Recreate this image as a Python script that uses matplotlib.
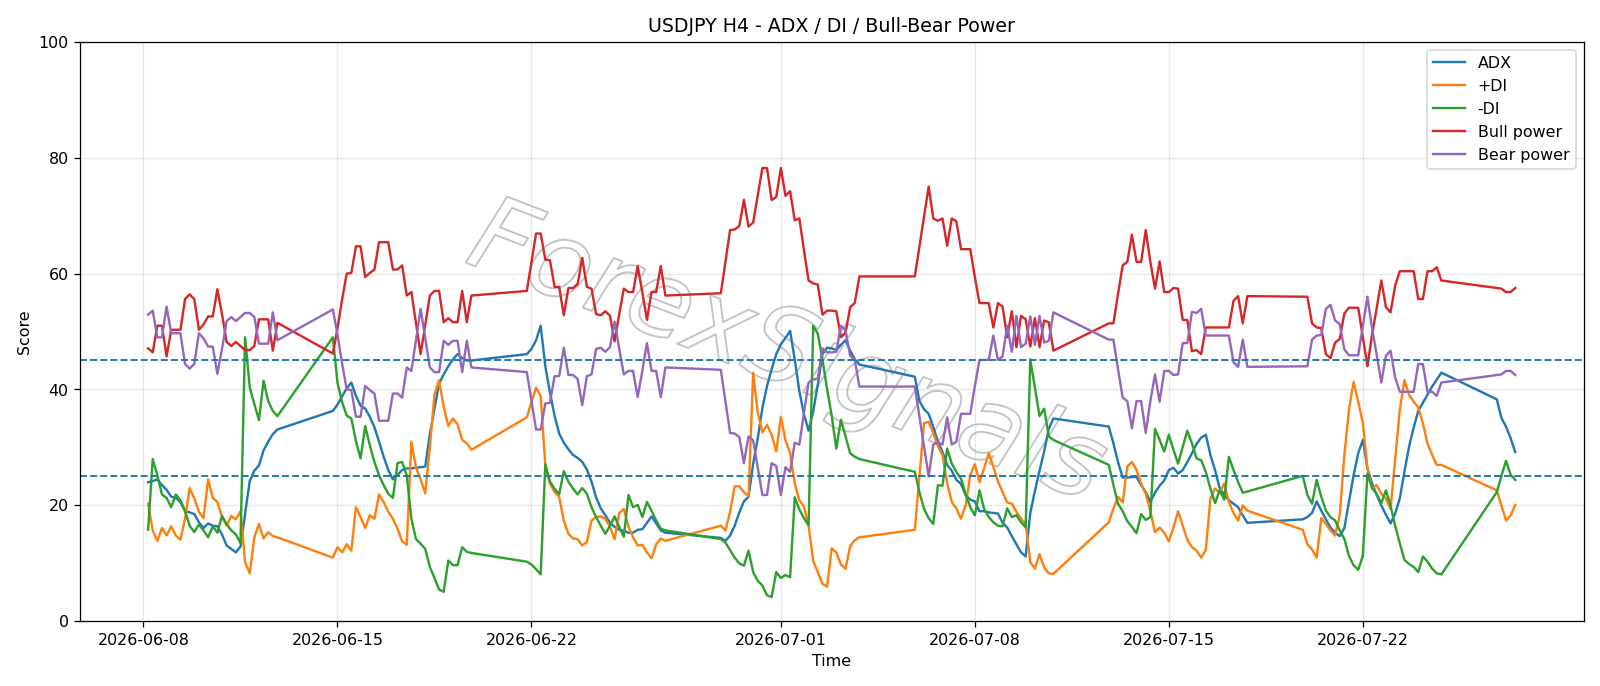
import pandas as pd
import matplotlib
matplotlib.use("Agg")
import matplotlib.pyplot as plt
import matplotlib.patheffects as pe

# H4 bars, one block per trading week (first bar, number of bars)
week_starts = ["2026-06-08 04:00", "2026-06-14 20:00", "2026-06-21 20:00", "2026-06-28 20:00",
               "2026-07-05 20:00", "2026-07-12 20:00", "2026-07-19 20:00", "2026-07-26 20:00"]
week_bars = [29, 31, 31, 31, 31, 31, 31, 5]

adx = [
    24.0, 24.2, 24.5, 23.5, 22.7, 21.5, 21.3, 20.6, 19.0, 18.8, 18.5, 17.1, 16.1, 16.9, 16.5,
    16.4, 15.0, 13.1, 12.5, 11.9, 12.9, 18.5, 24.2, 26.0, 26.9, 29.5, 31.0, 32.3, 33.1,
    36.3, 37.4, 38.8, 40.2, 41.2, 38.9, 37.2, 36.7, 35.3, 33.5, 31.0, 28.4, 26.1, 24.5, 25.3,
    26.1, 26.4, 26.4, 26.5, 26.6, 26.7, 32.3, 36.7, 41.0, 42.6, 44.0, 45.2, 46.1, 45.4, 45.0, 45.0,
    46.1, 47.0, 48.5, 51.0, 44.0, 39.5, 35.5, 32.4, 30.8, 29.7, 28.7, 28.2, 27.5, 26.2, 24.1,
    21.4, 19.5, 18.3, 17.0, 16.3, 15.8, 15.6, 15.3, 15.3, 15.8, 15.9, 17.0, 18.1, 16.9, 15.7, 15.3,
    14.4, 13.9, 14.8, 16.5, 18.8, 20.7, 21.5, 27.2, 31.6, 36.8, 40.6, 43.5, 46.1, 47.8, 48.9,
    50.1, 45.2, 39.7, 35.7, 32.9, 36.2, 40.9, 46.1, 47.2, 47.1, 46.8, 47.7, 48.5, 46.7, 45.2, 44.3,
    42.2, 38.0, 36.6, 35.8, 33.5, 31.0, 29.2, 27.0, 26.0, 24.4, 23.7, 21.8, 21.0, 20.7, 19.0,
    19.0, 18.8, 18.7, 18.6, 17.0, 16.2, 14.7, 13.3, 11.9, 11.2, 18.7, 22.5, 26.0, 29.3, 33.2, 35.0,
    33.6, 30.7, 27.5, 24.8, 24.8, 24.9, 24.9, 23.5, 22.3, 20.6, 22.2, 23.4, 24.3, 26.1, 26.5,
    25.5, 26.1, 27.5, 29.0, 30.6, 31.7, 32.2, 28.7, 26.1, 23.0, 21.8, 20.9, 20.3, 19.7, 18.3, 17.0,
    17.6, 18.0, 18.7, 20.7, 19.1, 17.6, 16.2, 15.3, 14.7, 16.1, 20.6, 25.2, 29.0, 31.3, 26.4,
    23.8, 21.8, 20.0, 18.4, 16.9, 18.6, 21.2, 25.8, 30.1, 33.4, 36.3, 37.7, 39.1, 40.5, 41.7, 42.9,
    38.3, 35.1, 33.6, 31.6, 29.2,
]

plus_di = [
    20.3, 15.7, 13.9, 16.1, 14.8, 16.4, 14.8, 14.1, 17.7, 23.0, 21.2, 18.9, 17.8, 24.5, 21.3,
    20.6, 18.0, 16.5, 18.2, 17.6, 19.0, 10.2, 8.3, 14.5, 16.8, 14.3, 15.4, 14.7, 14.5,
    11.0, 12.8, 11.9, 13.3, 12.2, 19.7, 18.0, 16.1, 18.3, 17.7, 21.9, 20.6, 18.9, 17.7, 16.0,
    13.8, 13.2, 31.0, 26.5, 24.5, 22.1, 30.0, 39.1, 41.6, 37.0, 33.7, 35.0, 34.0, 31.3, 30.7, 29.6,
    35.2, 37.8, 40.3, 38.9, 27.0, 23.8, 22.3, 21.5, 17.4, 15.1, 14.3, 14.2, 13.1, 13.7, 17.4,
    18.0, 18.1, 17.7, 16.3, 14.2, 18.7, 19.4, 16.3, 14.5, 13.1, 13.2, 11.9, 10.9, 13.3, 14.3, 13.9,
    16.5, 15.7, 18.9, 23.3, 23.3, 22.3, 21.6, 42.9, 36.0, 32.6, 33.9, 32.2, 29.3, 35.3, 31.2,
    29.1, 23.8, 20.9, 19.8, 16.5, 10.4, 8.5, 6.5, 6.0, 12.6, 11.9, 9.8, 9.1, 13.0, 14.0, 14.5,
    15.8, 25.0, 34.2, 34.4, 32.5, 30.2, 28.7, 23.8, 20.6, 19.5, 17.7, 20.0, 25.2, 27.1, 24.0,
    26.4, 29.0, 26.7, 24.1, 22.3, 20.5, 20.3, 18.9, 17.7, 16.8, 10.2, 9.1, 11.6, 9.3, 8.3, 8.2,
    17.1, 19.5, 21.5, 20.5, 26.7, 27.5, 26.1, 23.8, 22.0, 19.0, 15.4, 16.2, 15.3, 13.8, 16.2,
    19.0, 16.5, 14.1, 12.8, 12.2, 11.0, 12.3, 21.2, 22.9, 22.2, 23.8, 20.6, 18.7, 17.4, 20.0, 19.1,
    15.8, 13.3, 12.4, 11.0, 17.8, 16.8, 15.7, 14.8, 18.3, 28.7, 36.5, 41.3, 37.9, 34.2, 26.4,
    23.0, 23.5, 22.0, 21.2, 19.4, 28.0, 36.5, 41.6, 39.1, 37.9, 36.9, 34.2, 30.7, 28.7, 27.0, 27.0,
    22.6, 20.0, 17.4, 18.3, 20.1,
]

minus_di = [
    15.8, 28.0, 25.2, 21.9, 21.3, 19.7, 21.9, 20.9, 19.0, 16.5, 15.4, 16.7, 15.7, 14.5, 16.4,
    15.3, 18.2, 16.8, 15.7, 15.0, 13.5, 49.0, 40.4, 37.5, 34.7, 41.5, 38.0, 36.3, 35.4,
    49.0, 41.2, 37.8, 35.5, 35.0, 31.1, 28.1, 33.7, 30.4, 27.5, 25.2, 23.5, 22.0, 21.3, 27.3,
    27.5, 25.2, 17.7, 14.2, 13.4, 12.5, 9.4, 7.5, 5.5, 5.1, 10.5, 9.7, 9.7, 12.8, 12.0, 11.8,
    10.3, 9.8, 9.0, 8.1, 27.1, 24.1, 22.9, 21.9, 25.9, 24.1, 22.9, 21.9, 23.0, 22.0, 19.7,
    18.0, 16.5, 15.1, 16.5, 18.1, 16.3, 14.6, 21.8, 19.7, 20.1, 18.0, 20.6, 19.1, 17.4, 16.0, 15.7,
    14.2, 13.6, 12.3, 11.0, 10.0, 9.6, 12.2, 8.5, 7.0, 6.2, 4.5, 4.2, 8.5, 7.5, 8.0,
    7.6, 21.4, 19.3, 17.8, 16.6, 51.0, 49.6, 45.2, 40.1, 35.5, 29.8, 34.8, 31.9, 29.0, 28.4, 28.0,
    25.8, 22.3, 19.4, 17.8, 16.8, 23.5, 23.4, 29.8, 27.2, 25.8, 24.6, 22.0, 19.7, 18.3, 22.6,
    19.4, 18.0, 17.1, 16.5, 16.4, 19.5, 18.0, 18.3, 17.1, 16.2, 45.2, 40.3, 35.4, 36.7, 31.9, 31.3,
    27.0, 23.5, 20.3, 19.0, 17.3, 16.3, 15.2, 18.5, 17.5, 18.0, 33.2, 31.3, 29.3, 32.2, 29.6,
    27.2, 30.1, 32.9, 30.7, 28.1, 27.8, 25.8, 22.9, 20.4, 22.6, 21.0, 28.4, 26.1, 24.0, 22.2, 22.4,
    25.1, 21.8, 20.3, 24.4, 21.5, 19.1, 18.0, 17.4, 15.7, 14.2, 11.3, 9.7, 8.9, 11.3, 25.5,
    23.0, 22.0, 20.4, 22.6, 20.0, 16.5, 13.5, 10.6, 9.9, 9.4, 8.5, 11.2, 10.3, 9.1, 8.3, 8.1,
    22.3, 25.1, 27.7, 25.3, 24.4,
]

bull_power = [
    47.1, 46.4, 51.0, 51.0, 45.7, 50.3, 50.3, 50.3, 55.6, 56.4, 55.6, 50.3, 51.2, 52.6, 52.6,
    57.3, 53.0, 48.2, 47.5, 48.2, 47.5, 46.8, 46.8, 47.5, 52.1, 52.1, 52.1, 46.7, 51.5,
    46.2, 50.5, 55.5, 60.0, 60.1, 64.7, 64.7, 59.4, 60.1, 60.7, 65.4, 65.4, 65.4, 60.7, 60.7,
    61.4, 56.2, 56.8, 51.4, 46.1, 51.2, 56.2, 57.0, 57.0, 51.6, 52.3, 51.6, 51.6, 57.0, 51.6, 56.2,
    57.0, 62.0, 66.9, 66.9, 62.4, 62.3, 57.7, 57.7, 52.8, 57.5, 57.5, 58.2, 62.7, 57.7, 57.4,
    53.0, 52.8, 53.5, 52.7, 48.3, 53.0, 57.4, 56.8, 56.8, 61.3, 56.8, 52.0, 56.8, 56.8, 61.3, 56.2,
    56.6, 62.0, 67.5, 67.6, 68.2, 72.7, 68.1, 68.8, 73.5, 78.2, 78.2, 72.7, 73.2, 78.2, 73.4,
    74.2, 69.2, 69.5, 64.0, 58.8, 58.3, 58.1, 52.9, 53.6, 53.6, 53.5, 49.0, 49.8, 54.2, 54.9, 59.5,
    59.5, 64.7, 69.8, 75.0, 69.5, 69.1, 69.5, 64.8, 69.5, 69.0, 64.2, 64.2, 64.2, 59.4, 54.9,
    54.9, 54.9, 50.7, 54.9, 54.3, 49.0, 53.5, 47.3, 52.7, 52.1, 47.4, 52.3, 47.3, 51.9, 51.6, 46.7,
    51.4, 51.4, 56.5, 61.4, 62.0, 66.7, 62.0, 62.0, 67.5, 62.0, 57.4, 62.1, 56.8, 56.8, 57.5,
    57.4, 52.0, 52.0, 46.6, 46.8, 46.1, 50.7, 50.7, 50.7, 50.7, 50.7, 50.7, 55.3, 56.1, 51.4, 56.1,
    56.0, 56.0, 51.4, 50.7, 50.6, 46.1, 45.4, 48.1, 48.7, 53.1, 54.1, 54.1, 54.1, 49.0, 44.0,
    49.5, 54.0, 58.8, 54.2, 53.3, 57.9, 60.4, 60.4, 60.4, 60.4, 55.6, 55.6, 60.4, 60.4, 61.1, 58.8,
    57.5, 57.4, 56.8, 56.8, 57.5,
]

bear_power = [
    52.9, 53.6, 49.0, 49.0, 54.3, 49.7, 49.7, 49.7, 44.4, 43.6, 44.4, 49.7, 48.8, 47.4, 47.4,
    42.7, 47.0, 51.8, 52.5, 51.8, 52.5, 53.2, 53.2, 52.5, 47.9, 47.9, 47.9, 53.3, 48.5,
    53.8, 49.5, 44.5, 40.0, 39.9, 35.3, 35.3, 40.6, 39.9, 39.3, 34.6, 34.6, 34.6, 39.3, 39.3,
    38.6, 43.8, 43.2, 48.6, 53.9, 48.8, 43.8, 43.0, 43.0, 48.4, 47.7, 48.4, 48.4, 43.0, 48.4, 43.8,
    43.0, 38.0, 33.1, 33.1, 37.6, 37.7, 42.3, 42.3, 47.2, 42.5, 42.5, 41.8, 37.3, 42.3, 42.6,
    47.0, 47.2, 46.5, 47.3, 51.7, 47.0, 42.6, 43.2, 43.2, 38.7, 43.2, 48.0, 43.2, 43.2, 38.7, 43.8,
    43.4, 38.0, 32.5, 32.4, 31.8, 27.3, 31.9, 31.2, 26.5, 21.8, 21.8, 27.3, 26.8, 21.8, 26.6,
    25.8, 30.8, 30.5, 36.0, 41.2, 41.7, 41.9, 47.1, 46.4, 46.4, 46.5, 51.0, 50.2, 45.8, 45.1, 40.5,
    40.5, 35.3, 30.2, 25.0, 30.5, 30.9, 30.5, 35.2, 30.5, 31.0, 35.8, 35.8, 35.8, 40.6, 45.1,
    45.1, 45.1, 49.3, 45.1, 45.7, 51.0, 46.5, 52.7, 47.3, 47.9, 52.6, 47.7, 52.7, 48.1, 48.4, 53.3,
    48.6, 48.6, 43.5, 38.6, 38.0, 33.3, 38.0, 38.0, 32.5, 38.0, 42.6, 37.9, 43.2, 43.2, 42.5,
    42.6, 48.0, 48.0, 53.4, 53.2, 53.9, 49.3, 49.3, 49.3, 49.3, 49.3, 49.3, 44.7, 43.9, 48.6, 43.9,
    44.0, 44.0, 48.6, 49.3, 49.4, 53.9, 54.6, 51.9, 51.3, 46.9, 45.9, 45.9, 45.9, 51.0, 56.0,
    50.5, 46.0, 41.2, 45.8, 46.7, 42.1, 39.6, 39.6, 39.6, 39.6, 44.4, 44.4, 39.6, 39.6, 38.9, 41.2,
    42.5, 42.6, 43.2, 43.2, 42.5,
]

# build the bar timestamps (weekend gaps are simply joined by the line)
times = pd.DatetimeIndex([t for s, n in zip(week_starts, week_bars)
                          for t in pd.date_range(s, periods=n, freq="4h")])

fig, ax = plt.subplots(figsize=(14, 6), dpi=114.34)

ax.plot(times, adx, label="ADX")
ax.plot(times, plus_di, label="+DI")
ax.plot(times, minus_di, label="-DI")
ax.plot(times, bull_power, label="Bull power")
ax.plot(times, bear_power, label="Bear power")

ax.axhline(45, linestyle="--", linewidth=1.2)
ax.axhline(25, linestyle="--", linewidth=1.2)

# watermark, slanted outline text
ax.text(0.47, 0.46, "ForexSignals", transform=ax.transAxes, fontsize=66,
        fontstyle="italic", rotation=-21, ha="center", va="center", color="none", zorder=0,
        path_effects=[pe.Stroke(linewidth=1.2, foreground="#c4c4c4")])

ax.set_ylim(0, 100)
ax.set_title("USDJPY H4 - ADX / DI / Bull-Bear Power")
ax.set_xlabel("Time")
ax.set_ylabel("Score")
ax.grid(True, alpha=0.3)
ax.legend(loc="upper right")
plt.tight_layout()
plt.savefig("out.png")
